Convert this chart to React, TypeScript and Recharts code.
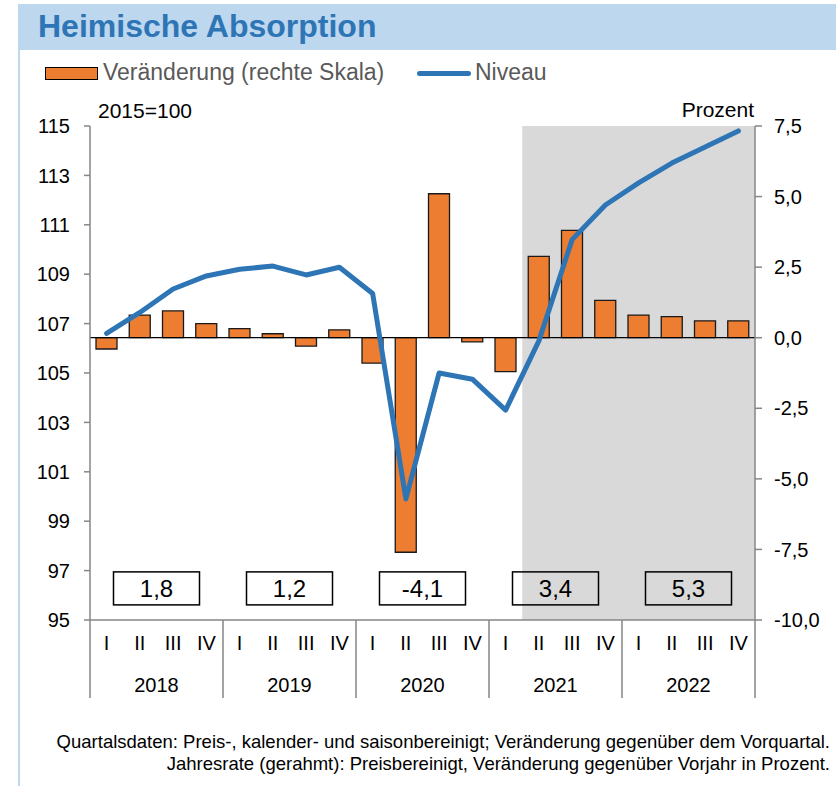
import { ComposedChart, Bar, Line, XAxis, YAxis, ReferenceArea, ReferenceLine, ReferenceDot } from 'recharts';

const years = ['2018', '2019', '2020', '2021', '2022'];
const quarters = ['I', 'II', 'III', 'IV'];
const change = [-0.4, 0.8, 0.95, 0.5, 0.32, 0.14, -0.3, 0.28, -0.9, -7.6, 5.1, -0.15, -1.2, 2.88, 3.8, 1.32, 0.8, 0.75, 0.6, 0.6];
const level = [106.6, 107.45, 108.4, 108.93, 109.2, 109.33, 108.97, 109.28, 108.22, 99.9, 105.0, 104.75, 103.5, 106.3, 110.4, 111.8, 112.7, 113.5, 114.15, 114.8];
const annual = [1.8, 1.2, -4.1, 3.4, 5.3];
const leftTicks = [95, 97, 99, 101, 103, 105, 107, 109, 111, 113, 115];
const rightTicks = [-10, -7.5, -5, -2.5, 0, 2.5, 5, 7.5];

const data = change.map((c, i) => ({
  key: `${years[Math.floor(i / 4)]}-${quarters[i % 4]}`,
  q: quarters[i % 4],
  year: years[Math.floor(i / 4)],
  change: c,
  level: level[i],
}));

const FONT = '"Liberation Sans", Arial, sans-serif';
const AXIS = '#868686';
const comma = (v: number) => v.toFixed(1).replace('.', ',');

function QuarterTick(props: any) {
  const { x, y, payload, index } = props;
  const half = payload.offset ?? 0;
  const q = quarters[index % 4];
  return (
    <g>
      <text x={x} y={y + 30} textAnchor="middle" fontSize={20} fontFamily={FONT} fill="#000">{q}</text>
      {index % 4 === 1 && (
        <text x={x + half} y={y + 72} textAnchor="middle" fontSize={20} fontFamily={FONT} fill="#000">
          {years[Math.floor(index / 4)]}
        </text>
      )}
      {index % 4 === 0 && <line x1={x - half} x2={x - half} y1={y} y2={y + 78} stroke={AXIS} strokeWidth={1.5} />}
      {index === data.length - 1 && <line x1={x + half} x2={x + half} y1={y} y2={y + 78} stroke={AXIS} strokeWidth={1.5} />}
    </g>
  );
}

function RateBox(props: any) {
  const { cx, cy, text } = props;
  return (
    <g>
      <rect x={cx - 43} y={cy - 16.5} width={86} height={33} fill="none" stroke="#000" strokeWidth={1.5} />
      <text x={cx} y={cy + 8.5} textAnchor="middle" fontSize={24} fontFamily={FONT} fill="#000">{text}</text>
    </g>
  );
}

export default function App() {
  return (
    <div style={{ position: 'absolute', left: 0, top: 0, width: 836, height: 786, background: '#fff', fontFamily: FONT }}>
      <div style={{ position: 'absolute', left: 18, top: 4, width: 818, height: 46, background: '#BDD7EE' }} />
      <div style={{ position: 'absolute', left: 18, top: 50, width: 2, height: 736, background: '#BDD7EE' }} />
      <div style={{ position: 'absolute', left: 38, top: 8, fontSize: 32, fontWeight: 'bold', color: '#2E75B6' }}>
        Heimische Absorption
      </div>

      <div style={{ position: 'absolute', left: 45, top: 67, width: 51, height: 11, background: '#ED7D31', border: '1px solid #000' }} />
      <div style={{ position: 'absolute', left: 103, top: 59, fontSize: 23, color: '#595959' }}>Veränderung (rechte Skala)</div>
      <div style={{ position: 'absolute', left: 417, top: 71, width: 54, height: 5, borderRadius: 3, background: '#2E75B6' }} />
      <div style={{ position: 'absolute', left: 475, top: 59, fontSize: 23, color: '#595959' }}>Niveau</div>

      <div style={{ position: 'absolute', left: 98, top: 99, fontSize: 21, color: '#000' }}>2015=100</div>
      <div style={{ position: 'absolute', right: 836 - 754, top: 98, fontSize: 21, color: '#000' }}>Prozent</div>

      <div style={{ position: 'absolute', left: 0, top: 0 }}>
        <ComposedChart width={836} height={786} data={data} margin={{ top: 126, right: 0, bottom: 86, left: 0 }} barSize={21}>
          <XAxis
            xAxisId="q"
            dataKey="key"
            interval={0}
            height={80}
            tickLine={false}
            tickSize={0}
            tickMargin={0}
            axisLine={{ stroke: AXIS, strokeWidth: 1.5 }}
            tick={<QuarterTick />}
          />
          <XAxis xAxisId="y" dataKey="year" allowDuplicatedCategory={false} hide />
          <YAxis
            yAxisId="left"
            orientation="left"
            width={90}
            domain={[95, 115]}
            ticks={leftTicks}
            interval={0}
            tickSize={6}
            tickMargin={14}
            axisLine={{ stroke: AXIS, strokeWidth: 1.5 }}
            tickLine={{ stroke: AXIS, strokeWidth: 1.5 }}
            tick={{ fill: '#000', fontSize: 20, fontFamily: FONT }}
          />
          <YAxis
            yAxisId="right"
            orientation="right"
            width={81}
            domain={[-10, 7.5]}
            ticks={rightTicks}
            interval={0}
            tickSize={7}
            tickMargin={12}
            tickFormatter={comma}
            axisLine={{ stroke: AXIS, strokeWidth: 1.5 }}
            tickLine={{ stroke: AXIS, strokeWidth: 1.5 }}
            tick={{ fill: '#000', fontSize: 20, fontFamily: FONT }}
          />
          <ReferenceArea xAxisId="q" yAxisId="left" x1="2021-II" x2="2022-IV" y1={95} y2={115} fill="#D9D9D9" fillOpacity={1} stroke="none" />
          <Bar xAxisId="q" yAxisId="right" dataKey="change" fill="#ED7D31" stroke="#1a1a1a" strokeWidth={1.3} isAnimationActive={false} />
          <ReferenceLine xAxisId="q" yAxisId="right" y={0} stroke="#000" strokeWidth={1.2} />
          <Line
            xAxisId="q"
            yAxisId="left"
            dataKey="level"
            stroke="#2E75B6"
            strokeWidth={5}
            strokeLinecap="round"
            strokeLinejoin="round"
            dot={false}
            activeDot={false}
            isAnimationActive={false}
          />
          {annual.map((a, i) => (
            <ReferenceDot
              key={years[i]}
              xAxisId="y"
              yAxisId="left"
              x={years[i]}
              y={96.28}
              shape={(p: any) => <RateBox {...p} text={comma(a)} />}
            />
          ))}
        </ComposedChart>
      </div>

      <div style={{ position: 'absolute', right: 6, top: 731, fontSize: 18.5, textAlign: 'right', lineHeight: '22px', color: '#000', whiteSpace: 'nowrap' }}>
        Quartalsdaten: Preis-, kalender- und saisonbereinigt; Veränderung gegenüber dem Vorquartal.
        <br />
        Jahresrate (gerahmt): Preisbereinigt, Veränderung gegenüber Vorjahr in Prozent.
      </div>
    </div>
  );
}
